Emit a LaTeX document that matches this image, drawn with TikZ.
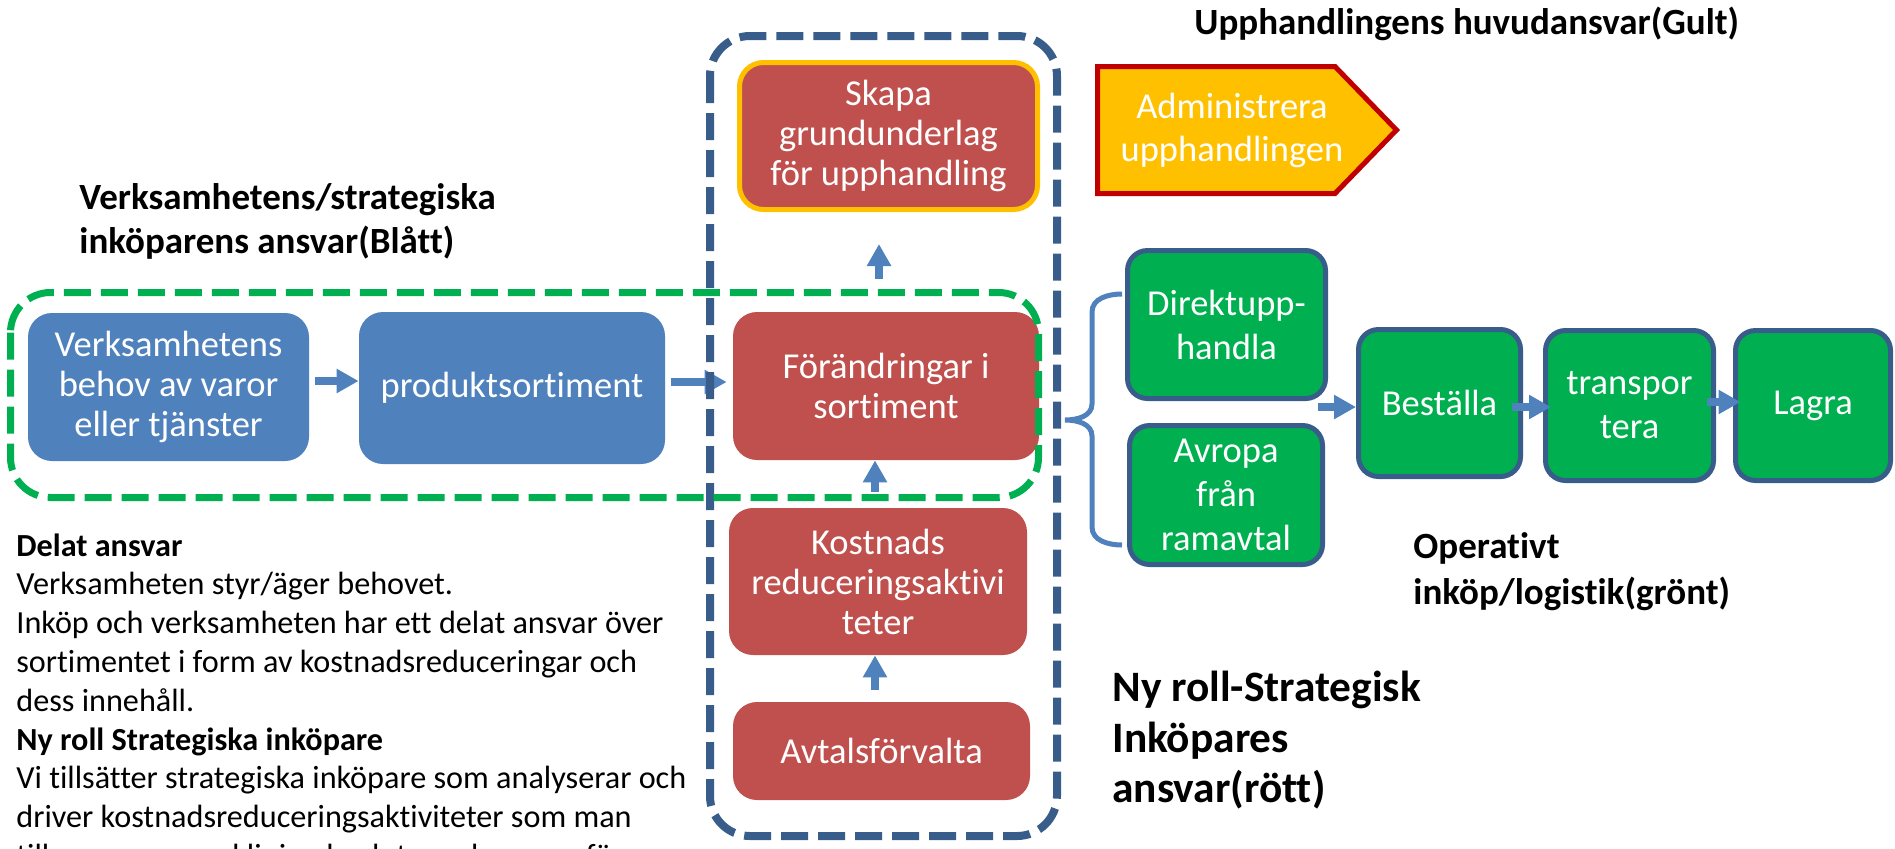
\documentclass[tikz,border=0pt]{standalone}
\usepackage{fontspec}
\setmainfont{Carlito}[Ligatures=NoCommon]
\usetikzlibrary{arrows.meta}
\definecolor{accblue}{HTML}{4F81BD}
\definecolor{accred}{HTML}{C0504D}
\definecolor{accgreen}{HTML}{00B050}
\definecolor{edgeblue}{HTML}{385D8A}
\definecolor{gold}{HTML}{FFC000}
\definecolor{deepred}{HTML}{C00000}
\begin{document}
\begin{tikzpicture}[x=0.5pt,y=-0.5pt,
  boxbase/.style={rounded corners=12pt, inner sep=0pt, align=center, text=white,
    font=\fontsize{18.25}{20}\selectfont},
  bluebox/.style={boxbase, fill=accblue},
  redbox/.style={boxbase, fill=accred},
  greenbox/.style={boxbase, rounded corners=10pt, fill=accgreen, draw=edgeblue,
    line width=2.5pt, font=\fontsize{18.25}{22}\selectfont},
  flow/.style={draw=accblue, line width=4pt, -{Triangle[length=11pt,width=11.5pt]}},
  txt/.style={anchor=base west, inner sep=0pt},
  lbl/.style={txt, font=\bfseries\fontsize{18.5}{22}\selectfont},
  biglbl/.style={txt, font=\bfseries\fontsize{21.7}{26}\selectfont},
  body/.style={txt, font=\fontsize{16.1}{19.4}\selectfont},
  bodyhead/.style={txt, font=\bfseries\fontsize{16.1}{19.4}\selectfont},
  zone/.style={line width=4pt, dash pattern=on 13.5pt off 5pt, rounded corners=20pt}]
\clip (0,0) rectangle (1895,848);

% blue responsibility
\node[bluebox, minimum width=140.5pt, minimum height=74pt] (verk) at (168.5,387)
  {Verksamhetens\\behov av varor\\eller tjänster};
\node[bluebox, minimum width=153pt, minimum height=76pt] (prod) at (512,388)
  {produktsortiment};

% red column
\node[redbox, draw=gold, line width=2.5pt, minimum width=149pt, minimum height=73.5pt] (skapa) at (888.5,136)
  {Skapa\\grundunderlag\\för upphandling};
\node[redbox, minimum width=153pt, minimum height=74pt] (foer) at (886,386)
  {Förändringar i\\sortiment};
\node[redbox, minimum width=149pt, minimum height=73.5pt] (kost) at (878,581.5)
  {Kostnads\\reduceringsaktivi\\teter};
\node[redbox, minimum width=148.5pt, minimum height=49pt] (avt) at (881.5,751)
  {Avtalsförvalta};

% procurement arrow shape
\draw[fill=gold, draw=deepred, line width=2.5pt, line join=miter]
  (1097.5,66.5) -- (1335,66.5) -- (1396.5,130) -- (1335,193.5) -- (1097.5,193.5) -- cycle;
\node[boxbase, font=\fontsize{18.25}{21.5}\selectfont] (admin) at (1232,130)
  {Administrera\\upphandlingen};

% green operative chain
\node[greenbox, minimum width=99pt, minimum height=74pt] (direkt) at (1226.5,324.5)
  {Direktupp-\\handla};
\node[greenbox, minimum width=96.5pt, minimum height=69.5pt] (avropa) at (1226,495)
  {Avropa\\från\\ramavtal};
\node[greenbox, minimum width=81pt, minimum height=73.5pt] (best) at (1439.5,403)
  {Beställa};
\node[greenbox, minimum width=84pt, minimum height=75pt] (tr) at (1629.5,405.5)
  {transpor\\tera};
\node[greenbox, minimum width=77.5pt, minimum height=75pt] (lagra) at (1813,405.5)
  {Lagra};

% brace joining the two purchase routes
\draw[accblue, line width=2.5pt]
  (1122,294) to[out=180,in=90] (1092,312) -- (1092,404)
  to[out=-90,in=0] (1065,420) to[out=0,in=90] (1092,436) -- (1092,527)
  to[out=-90,in=180] (1122,545);

% connectors
\coordinate (grp) at (1318,407);
\draw[flow] ([xshift=3pt,yshift=3pt]verk.east) -- ([yshift=3pt]verk.east -| prod.west);
\draw[flow] ([xshift=3pt,yshift=3pt]prod.east) -- ([xshift=-3pt,yshift=3pt]prod.east -| foer.west);
\draw[flow] ([xshift=-3.5pt,yshift=16.5pt]foer.north) -- ([xshift=-3.5pt,yshift=-16pt]foer.north |- skapa.south);
\draw[flow] ([xshift=-1.5pt,yshift=8pt]kost.north) -- ([xshift=-1.5pt]kost.north |- foer.south);
\draw[flow] ([xshift=-3.25pt,yshift=6pt]avt.north) -- ([xshift=-3.25pt]avt.north |- kost.south);
\draw[flow] (grp) -- (grp -| best.west);
\draw[flow] ([xshift=-5.5pt,yshift=-2pt]best.east) -- ([xshift=4pt,yshift=-2pt]best.east -| tr.west);
\draw[flow] ([xshift=-4.75pt,yshift=1.75pt]tr.east) -- ([xshift=3.75pt,yshift=1.75pt]tr.east -| lagra.west);

% responsibility zones
\draw[zone, draw=edgeblue] (710,36) rectangle (1057,836);
\draw[zone, draw=accgreen, line width=3.5pt] (10.5,292.5) rectangle (1038.5,497.5);

% headings
\node[lbl] (hGult) at (1194,34) {Upphandlingens huvudansvar(Gult)};
\node[lbl] (hBla1) at (79,209) {Verksamhetens/strategiska};
\node[lbl] (hBla2) at (79,253) {inköparens ansvar(Blått)};
\node[lbl] (hGr1) at (1413,558) {Operativt};
\node[lbl] (hGr2) at (1413,604) {inköp/logistik(grönt)};
\node[biglbl] (hRo1) at (1112,701) {Ny roll-Strategisk};
\node[biglbl] (hRo2) at (1112,752) {Inköpares};
\node[biglbl] (hRo3) at (1112,802) {ansvar(rött)};

% explanatory text
\node[bodyhead] (d1) at (16,556) {Delat ansvar};
\node[body] (d2) at (16,594.8) {Verksamheten styr/äger behovet.};
\node[body] (d3) at (16,633.6) {Inköp och verksamheten har ett delat ansvar över};
\node[body] (d4) at (16,672.4) {sortimentet i form av kostnadsreduceringar och};
\node[body] (d5) at (16,711.2) {dess innehåll.};
\node[bodyhead] (d6) at (16,750) {Ny roll Strategiska inköpare};
\node[body] (d7) at (16,788.8) {Vi tillsätter strategiska inköpare som analyserar och};
\node[body] (d8) at (16,827.6) {driver kostnadsreduceringsaktiviteter som man};
\node[body] (d9) at (16,866.4) {tillsammans med linjen beslutar och genomför};
\end{tikzpicture}
\end{document}
